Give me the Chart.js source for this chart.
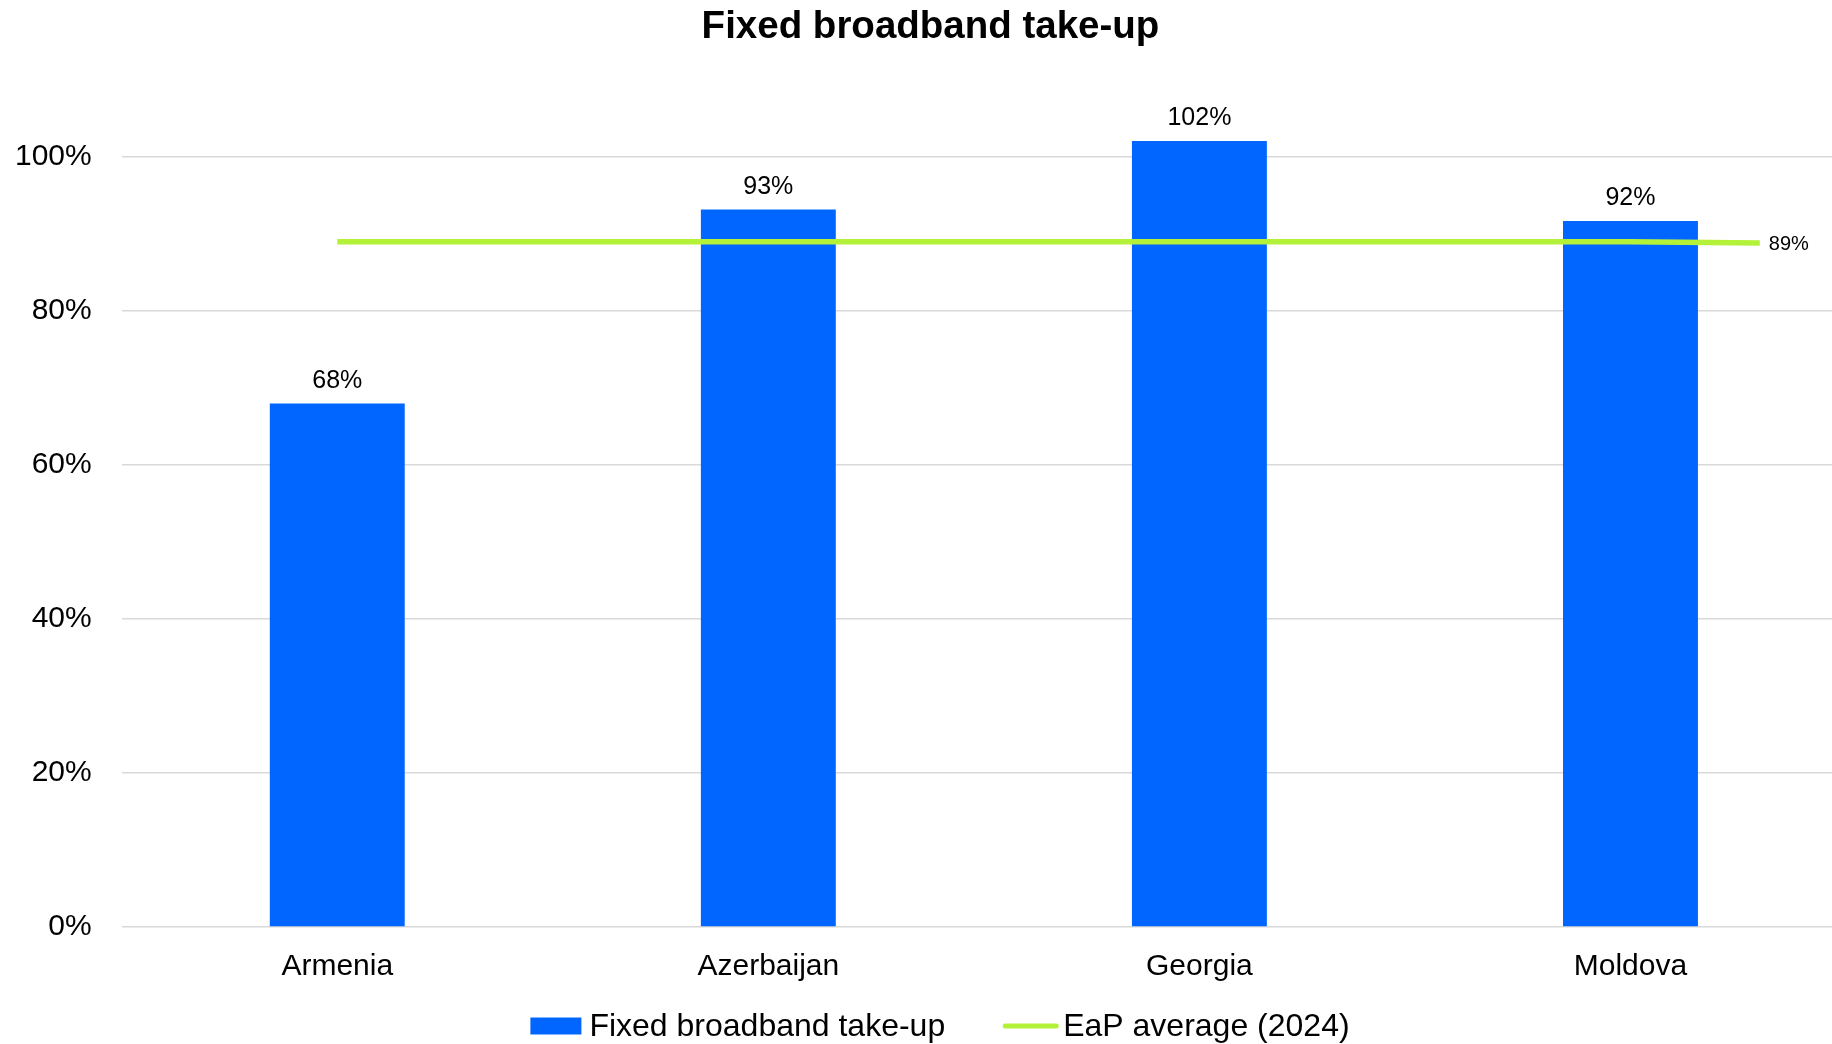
<!DOCTYPE html>
<html>
<head>
<meta charset="utf-8">
<title>Fixed broadband take-up</title>
<script src="https://cdn.jsdelivr.net/npm/chart.js@4.4.1/dist/chart.umd.min.js"></script>
<style>
  html, body { margin: 0; padding: 0; background: #ffffff; overflow: hidden; }
  #wrap { position: relative; width: 1872px; height: 1044px; }
</style>
</head>
<body>
<div id="wrap"><canvas id="chart"></canvas></div>
<script>
// Data
const categories = ['Armenia', 'Azerbaijan', 'Georgia', 'Moldova'];
const takeUpValues = [68.0, 93.2, 102.1, 91.7];          // % of households
const eapAverageX = [0, 1, 2, 3, 3.3];                    // position along the category band
const eapAverageValues = [89, 89, 89, 89, 88.85];         // EaP average (2024), %
const yTickValues = [0, 20, 40, 60, 80, 100];

const seriesNames = ['Fixed broadband take-up', 'EaP average (2024)'];
const BAR_COLOR = '#0066ff';
const LINE_COLOR = '#b4f23a';
const FONT = "Arial, 'Liberation Sans', Helvetica, sans-serif";

// Value labels above bars and at the end of the average line
const valueLabels = {
  id: 'valueLabels',
  afterDatasetsDraw(chart) {
    const ctx = chart.ctx;
    ctx.save();
    ctx.fillStyle = '#000000';
    const bars = chart.getDatasetMeta(0).data;
    ctx.font = '25px ' + FONT;
    ctx.textAlign = 'center';
    ctx.textBaseline = 'alphabetic';
    bars.forEach((el, i) => {
      ctx.fillText(Math.round(takeUpValues[i]) + '%', el.x, el.y - 16);
    });
    const pts = chart.getDatasetMeta(1).data;
    const last = pts[pts.length - 1];
    ctx.font = '20px ' + FONT;
    ctx.textAlign = 'left';
    ctx.textBaseline = 'middle';
    ctx.fillText(Math.round(eapAverageValues[eapAverageValues.length - 1]) + '%', last.x + 9, last.y + 1);
    ctx.restore();
  }
};

// Legend drawn centred along the bottom edge
const bottomLegend = {
  id: 'bottomLegend',
  afterDraw(chart) {
    const ctx = chart.ctx;
    const w = chart.width;
    const cy = chart.height - 18;
    ctx.save();
    ctx.font = '32px ' + FONT;
    const t1 = ctx.measureText(seriesNames[0]).width;
    const t2 = ctx.measureText(seriesNames[1]).width;
    const boxW = 51, boxH = 17, gapText = 8, gapItems = 58, lineW = 55, lineGap = 5;
    const total = boxW + gapText + t1 + gapItems + lineW + lineGap + t2;
    let x = (w - total) / 2 + 4;
    ctx.fillStyle = BAR_COLOR;
    ctx.fillRect(x, cy - boxH / 2, boxW, boxH);
    x += boxW + gapText;
    ctx.fillStyle = '#000000';
    ctx.textAlign = 'left';
    ctx.textBaseline = 'middle';
    ctx.fillText(seriesNames[0], x, cy + 1);
    x += t1 + gapItems;
    ctx.strokeStyle = LINE_COLOR;
    ctx.lineWidth = 5;
    ctx.lineCap = 'round';
    ctx.beginPath();
    ctx.moveTo(x + 2, cy);
    ctx.lineTo(x + lineW - 2, cy);
    ctx.stroke();
    x += lineW + lineGap;
    ctx.fillText(seriesNames[1], x, cy + 1);
    ctx.restore();
  }
};

new Chart(document.getElementById('chart'), {
  data: {
    labels: categories,
    datasets: [
      {
        type: 'bar',
        label: seriesNames[0],
        data: takeUpValues,
        backgroundColor: BAR_COLOR,
        borderWidth: 0,
        grouped: false,
        categoryPercentage: 0.313,
        barPercentage: 1.0,
        xAxisID: 'x',
        yAxisID: 'y',
        order: 1
      },
      {
        type: 'line',
        label: seriesNames[1],
        data: eapAverageX.map((x, i) => ({ x: x, y: eapAverageValues[i] })),
        borderColor: LINE_COLOR,
        borderWidth: 5.5,
        pointRadius: 0,
        tension: 0,
        fill: false,
        xAxisID: 'xLine',
        yAxisID: 'y',
        order: 0
      }
    ]
  },
  options: {
    responsive: true,
    maintainAspectRatio: false,
    animation: false,
    layout: { padding: { left: 15, right: 26, top: 0, bottom: 59 } },
    scales: {
      x: {
        type: 'category',
        offset: true,
        grid: { display: false, drawTicks: false },
        border: { display: false },
        ticks: { color: '#000000', font: { family: FONT, size: 30 }, padding: 22 },
        // the tick padding is only needed once, between the plot and the labels
        afterFit(scale) { scale.height -= 22; }
      },
      xLine: {
        type: 'linear',
        display: false,
        min: -0.5,
        max: 3.5,
        offset: false
      },
      y: {
        min: 0,
        max: 110,
        afterBuildTicks(scale) {
          scale.ticks = yTickValues.map(v => ({ value: v }));
        },
        grid: { color: '#d9d9d9', lineWidth: 1.5, drawTicks: false },
        border: { display: false },
        ticks: {
          color: '#000000',
          font: { family: FONT, size: 30 },
          padding: 30,
          callback: v => v + '%'
        },
        afterFit(scale) { scale.width -= 30; }
      }
    },
    plugins: {
      legend: { display: false },
      tooltip: { enabled: false },
      title: {
        display: true,
        text: 'Fixed broadband take-up',
        color: '#000000',
        font: { family: FONT, size: 38.5, weight: 'bold' },
        padding: { top: 4, bottom: 30 }
      }
    }
  },
  plugins: [valueLabels, bottomLegend]
});
</script>
</body>
</html>
